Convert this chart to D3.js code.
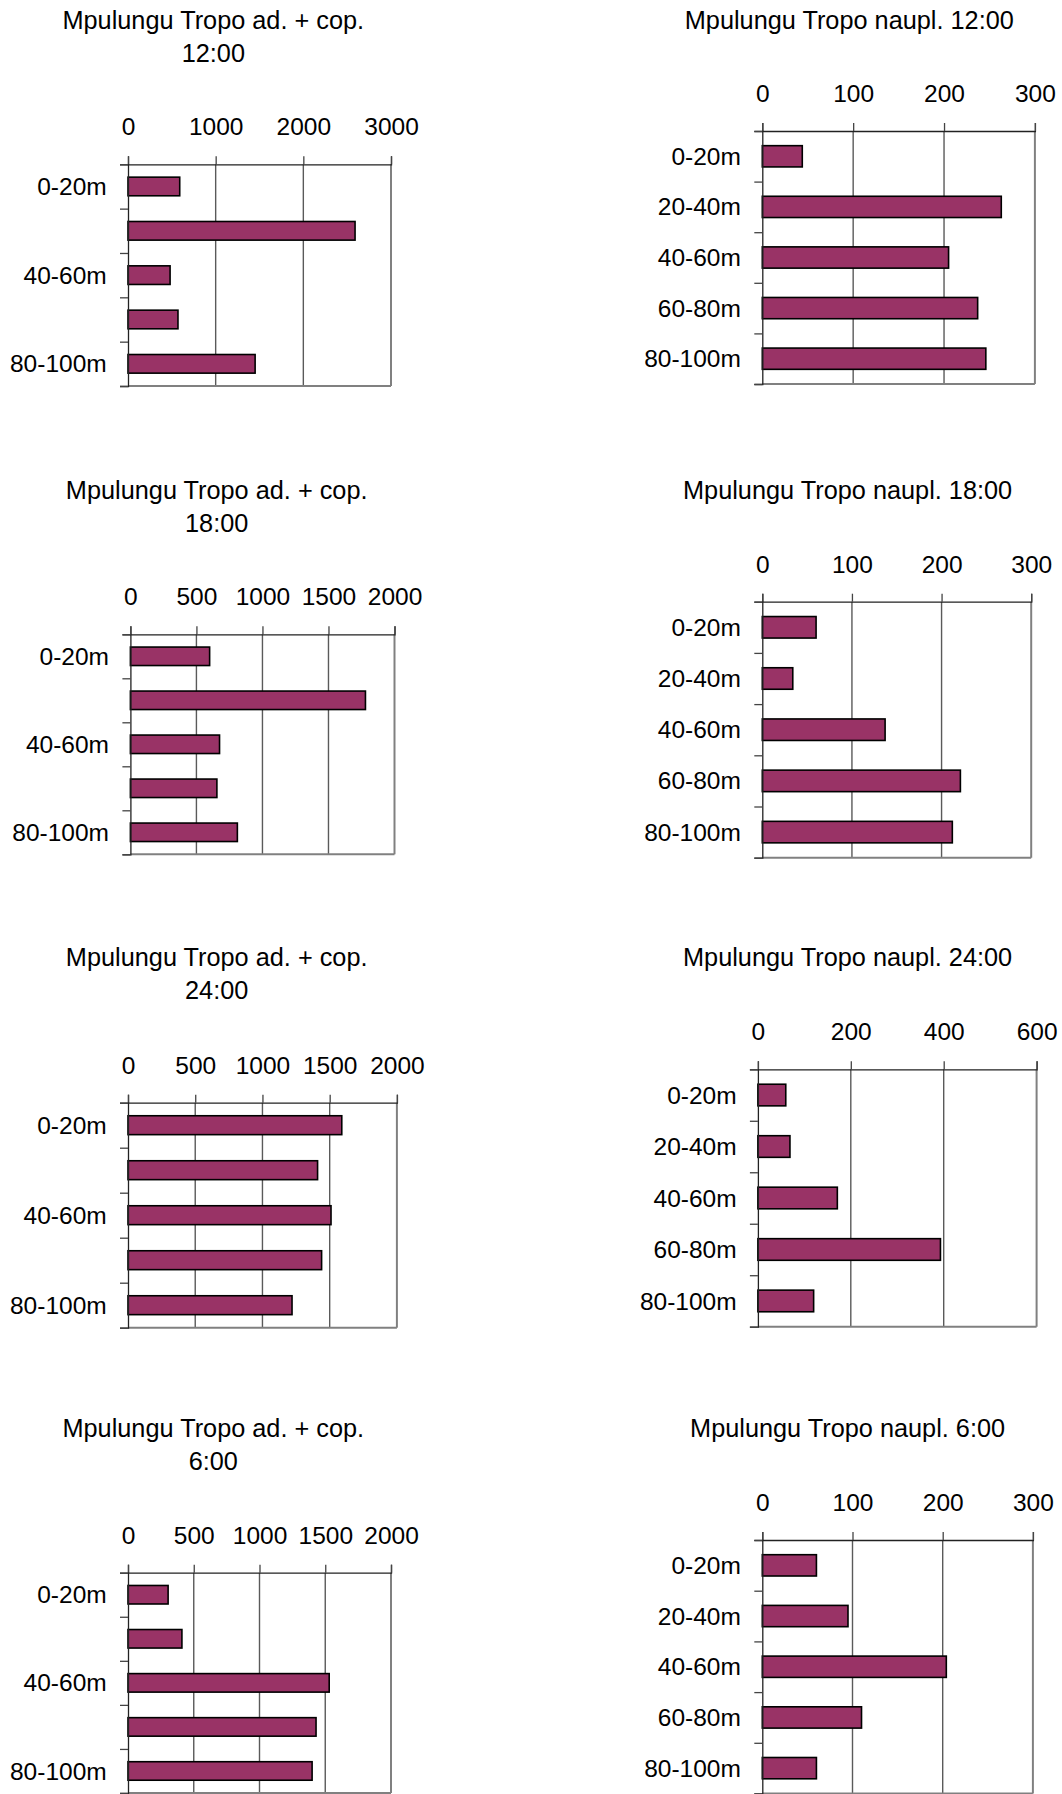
<!DOCTYPE html>
<html>
<head>
<meta charset="utf-8">
<script src="https://cdn.jsdelivr.net/npm/d3@7"></script>
<style>
  html, body { margin: 0; padding: 0; background: #fff; }
  svg { display: block; font-family: "Liberation Sans", Arial, sans-serif; }
</style>
</head>
<body>
<svg id="chart" width="1062" height="1794"></svg>
<script>
// ---------- data ----------
const categories = ["0-20m", "20-40m", "40-60m", "60-80m", "80-100m"];
const adCategoryLabels = ["0-20m", "", "40-60m", "", "80-100m"];
const nauplCategoryLabels = ["0-20m", "20-40m", "40-60m", "60-80m", "80-100m"];

const adTitleLine1 = "Mpulungu Tropo ad. + cop.";
const adTimes = ["12:00", "18:00", "24:00", "6:00"];
const nauplTitles = ["Mpulungu Tropo naupl. 12:00", "Mpulungu Tropo naupl. 18:00",
                     "Mpulungu Tropo naupl. 24:00", "Mpulungu Tropo naupl. 6:00"];

const adCop1200 = [590, 2590, 480, 570, 1450];
const adCop1800 = [600, 1780, 675, 655, 810];
const adCop2400 = [1590, 1410, 1510, 1440, 1220];
const adCop0600 = [305, 410, 1530, 1430, 1400];

const naupl1200 = [44, 263, 205, 237, 246];
const naupl1800 = [60, 34, 137, 221, 212];
const naupl2400 = [60, 69, 171, 393, 120];
const naupl0600 = [60, 95, 204, 110, 60];

const ticks3000 = [0, 1000, 2000, 3000];
const ticks2000 = [0, 500, 1000, 1500, 2000];
const ticks300 = [0, 100, 200, 300];
const ticks600 = [0, 200, 400, 600];

// ---------- layout (positions only) ----------
const panels = [
  { title: [adTitleLine1, adTimes[0]], values: adCop1200, ticks: ticks3000, labels: adCategoryLabels,
    box: { l: 128, r: 391, t: 164.3, b: 386 }, tx: 213.3, ty: 20, lx: 106.7 },
  { title: [nauplTitles[0]], values: naupl1200, ticks: ticks300, labels: nauplCategoryLabels,
    box: { l: 762.3, r: 1034.9, t: 131, b: 384 }, tx: 849.3, ty: 20, lx: 740.9 },
  { title: [adTitleLine1, adTimes[1]], values: adCop1800, ticks: ticks2000, labels: adCategoryLabels,
    box: { l: 130.4, r: 394.5, t: 634.3, b: 854.3 }, tx: 216.7, ty: 490, lx: 109 },
  { title: [nauplTitles[1]], values: naupl1800, ticks: ticks300, labels: nauplCategoryLabels,
    box: { l: 762.3, r: 1031.2, t: 601.7, b: 857.7 }, tx: 847.6, ty: 490, lx: 740.9 },
  { title: [adTitleLine1, adTimes[2]], values: adCop2400, ticks: ticks2000, labels: adCategoryLabels,
    box: { l: 128, r: 396.9, t: 1102.7, b: 1327.7 }, tx: 216.7, ty: 957, lx: 106.7 },
  { title: [nauplTitles[2]], values: naupl2400, ticks: ticks600, labels: nauplCategoryLabels,
    box: { l: 757.9, r: 1036.6, t: 1069.3, b: 1326.7 }, tx: 847.6, ty: 957, lx: 736.6 },
  { title: [adTitleLine1, adTimes[3]], values: adCop0600, ticks: ticks2000, labels: adCategoryLabels,
    box: { l: 128, r: 391, t: 1572.7, b: 1793 }, tx: 213.3, ty: 1428, lx: 106.7 },
  { title: [nauplTitles[3]], values: naupl0600, ticks: ticks300, labels: nauplCategoryLabels,
    box: { l: 762.3, r: 1032.9, t: 1540, b: 1793.5 }, tx: 847.6, ty: 1428, lx: 740.9 }
];

const svg = d3.select("#chart");
const BAR_FILL = "#993366";
const FONT = 24.5;
const TITLE_FONT = 25.3;

panels.forEach(p => {
  const g = svg.append("g");
  const { l, r, t, b } = p.box;

  const x = d3.scaleLinear().domain([0, d3.max(p.ticks)]).range([l, r]);
  const y = d3.scaleBand().domain(categories).range([t, b]).paddingInner(0.58).paddingOuter(0.29);
  const yEdge = d3.scaleLinear().domain([0, categories.length]).range([t, b]);

  // title
  const title = g.append("text")
    .attr("x", p.tx).attr("y", p.ty)
    .attr("text-anchor", "middle")
    .attr("font-size", TITLE_FONT)
    .attr("fill", "#000");
  p.title.forEach((line, i) => {
    title.append("tspan").attr("x", p.tx).attr("y", p.ty + i * 33.3).attr("dy", "0.35em").text(line);
  });

  // vertical gridlines (interior + right border)
  g.selectAll(".grid").data(p.ticks.slice(1)).join("line")
    .attr("x1", d => x(d)).attr("x2", d => x(d))
    .attr("y1", t).attr("y2", b)
    .attr("stroke", (d, i, n) => i === n.length - 1 ? "#808080" : "#5a5a5a")
    .attr("stroke-width", (d, i, n) => i === n.length - 1 ? 2 : 1.4);

  // bottom border
  g.append("line")
    .attr("x1", l).attr("x2", r).attr("y1", b).attr("y2", b)
    .attr("stroke", "#808080").attr("stroke-width", 2);

  // bars
  g.selectAll(".bar").data(p.values).join("rect")
    .attr("x", x(0))
    .attr("y", (d, i) => y(categories[i]))
    .attr("width", d => x(d) - x(0))
    .attr("height", y.bandwidth())
    .attr("fill", BAR_FILL)
    .attr("stroke", "#000")
    .attr("stroke-width", 1.6);

  // top axis (value axis)
  const xAxis = d3.axisTop(x).tickValues(p.ticks).tickSize(8).tickPadding(21).tickFormat(d3.format("d"));
  const xa = g.append("g").attr("transform", `translate(0,${t})`).call(xAxis);
  xa.select(".domain").attr("stroke", "#222").attr("stroke-width", 1.3);
  xa.selectAll(".tick line").attr("stroke", "#444").attr("stroke-width", 1.3);
  xa.selectAll(".tick text").attr("font-size", FONT).attr("fill", "#000")
    .attr("font-family", "'Liberation Sans', Arial, sans-serif");

  // left axis (category boundaries)
  const yAxis = d3.axisLeft(yEdge).tickValues(d3.range(categories.length + 1)).tickSize(8).tickFormat("");
  const ya = g.append("g").attr("transform", `translate(${l},0)`).call(yAxis);
  ya.select(".domain").attr("stroke", "#222").attr("stroke-width", 1.3);
  ya.selectAll(".tick line").attr("stroke", "#444").attr("stroke-width", 1.3);

  // category labels
  g.selectAll(".cat").data(p.labels).join("text")
    .attr("x", p.lx)
    .attr("y", (d, i) => y(categories[i]) + y.bandwidth() / 2)
    .attr("dy", "0.35em")
    .attr("text-anchor", "end")
    .attr("font-size", FONT)
    .attr("fill", "#000")
    .text(d => d);
});
</script>
</body>
</html>
